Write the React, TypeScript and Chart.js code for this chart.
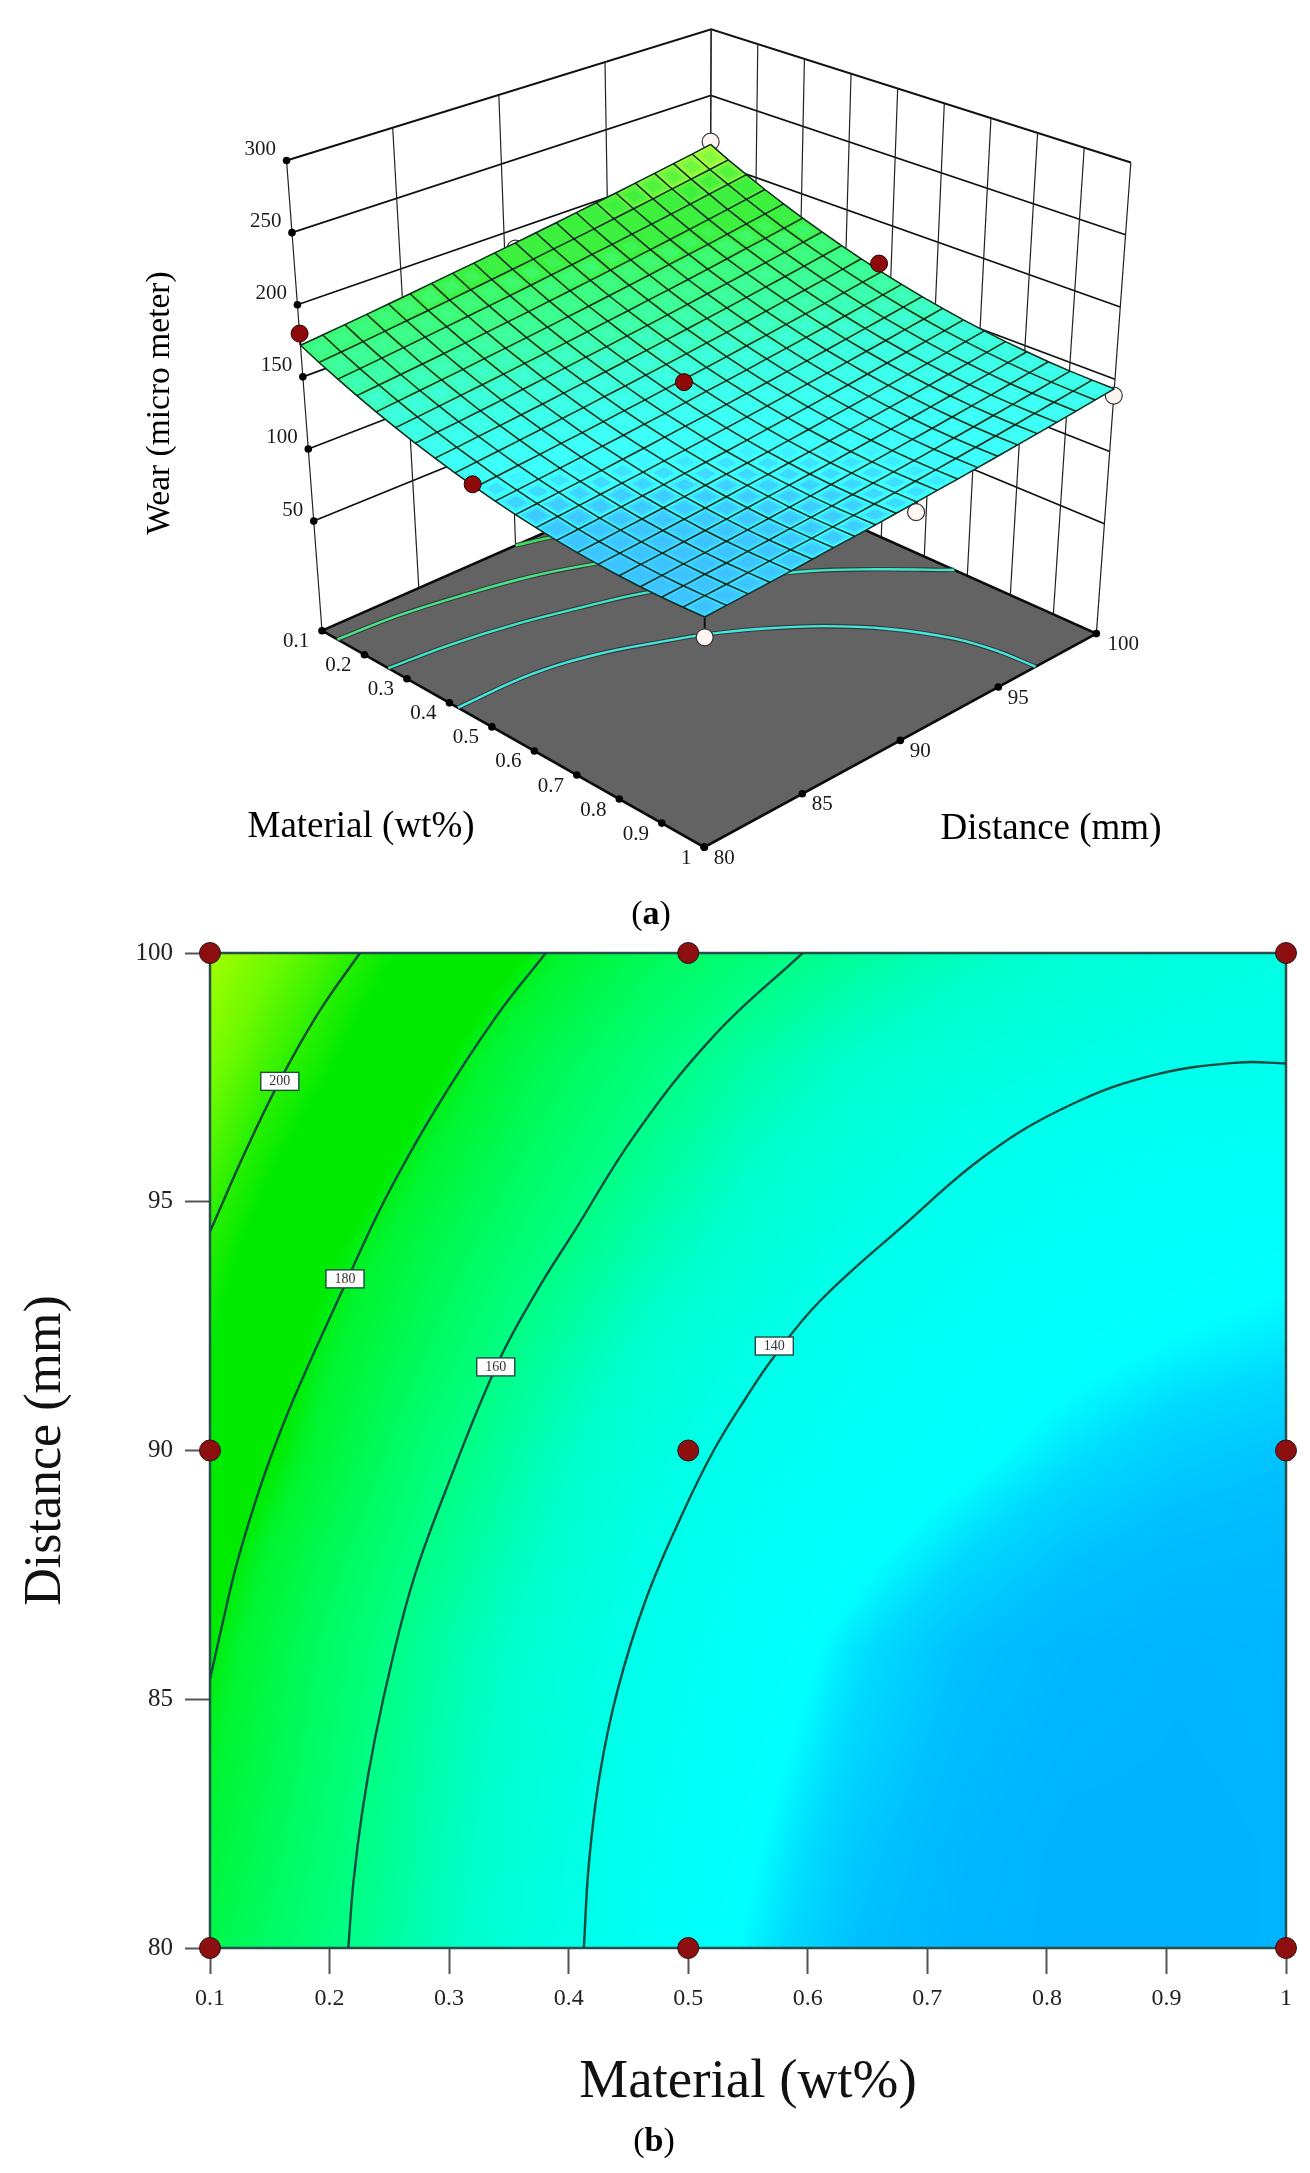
import React, { useEffect, useRef } from "react";
import { Chart, registerables } from "chart.js";

Chart.register(...registerables);

// ---------- data ----------
const materialTicks = [0.1, 0.2, 0.3, 0.4, 0.5, 0.6, 0.7, 0.8, 0.9, 1];
const distanceTicks = [80, 85, 90, 95, 100];
const wearTicks = [50, 100, 150, 200, 250, 300];

// Wear on the response-surface mesh: one row per material step (0.1 .. 1, 21 rows), one column per distance step (80 .. 100, 21 cols)
const wearGrid = [
  [171.9,173.5,175.2,176.9,178.7,180.5,182.4,184.3,186.2,188.2,190.2,192.3,194.4,196.6,198.8,201.0,203.3,205.6,208.0,210.4,212.9],
  [166.2,167.8,169.4,171.1,172.8,174.5,176.3,178.2,180.1,182.0,184.0,186.0,188.0,190.1,192.3,194.5,196.7,199.0,201.3,203.6,206.0],
  [161.0,162.5,164.1,165.7,167.4,169.1,170.8,172.6,174.4,176.3,178.2,180.1,182.2,184.2,186.3,188.4,190.6,192.8,195.1,197.4,199.7],
  [156.0,157.5,159.0,160.5,162.1,163.8,165.5,167.2,168.9,170.8,172.6,174.5,176.5,178.4,180.5,182.5,184.7,186.8,189.0,191.3,193.5],
  [151.4,152.8,154.3,155.8,157.3,158.9,160.5,162.2,163.9,165.6,167.4,169.3,171.2,173.1,175.1,177.1,179.1,181.2,183.4,185.6,187.8],
  [147.2,148.6,150.0,151.4,152.9,154.4,156.0,157.6,159.2,160.9,162.7,164.4,166.3,168.1,170.0,172.0,174.0,176.1,178.1,180.3,182.4],
  [143.3,144.6,145.9,147.3,148.7,150.2,151.7,153.3,154.9,156.5,158.2,159.9,161.7,163.5,165.4,167.3,169.2,171.2,173.2,175.3,177.4],
  [139.8,141.0,142.3,143.6,145.0,146.4,147.9,149.4,150.9,152.5,154.1,155.8,157.5,159.3,161.0,162.9,164.8,166.7,168.7,170.7,172.7],
  [136.6,137.8,139.0,140.3,141.6,142.9,144.3,145.8,147.2,148.8,150.3,152.0,153.6,155.3,157.0,158.8,160.7,162.5,164.4,166.4,168.4],
  [133.7,134.8,136.0,137.2,138.5,139.7,141.1,142.5,143.9,145.4,146.9,148.4,150.0,151.7,153.3,155.1,156.8,158.6,160.5,162.4,164.3],
  [131.2,132.3,133.4,134.5,135.7,137.0,138.2,139.6,140.9,142.3,143.8,145.3,146.8,148.4,150.0,151.7,153.4,155.2,157.0,158.8,160.7],
  [129.1,130.1,131.2,132.3,133.4,134.6,135.8,137.1,138.4,139.7,141.1,142.6,144.0,145.6,147.1,148.7,150.4,152.1,153.8,155.6,157.4],
  [127.3,128.3,129.3,130.3,131.4,132.5,133.7,134.9,136.1,137.4,138.7,140.1,141.6,143.0,144.5,146.1,147.7,149.3,151.0,152.7,154.5],
  [125.8,126.7,127.6,128.6,129.6,130.7,131.8,133.0,134.1,135.4,136.7,138.0,139.4,140.8,142.2,143.7,145.3,146.8,148.5,150.1,151.8],
  [124.7,125.5,126.4,127.3,128.3,129.3,130.4,131.5,132.6,133.8,135.0,136.3,137.6,138.9,140.3,141.8,143.2,144.8,146.3,148.0,149.6],
  [124.0,124.8,125.6,126.5,127.4,128.3,129.3,130.4,131.4,132.6,133.7,134.9,136.2,137.5,138.8,140.2,141.6,143.1,144.6,146.2,147.7],
  [123.6,124.3,125.1,125.9,126.7,127.6,128.6,129.6,130.6,131.6,132.7,133.9,135.1,136.3,137.6,138.9,140.3,141.7,143.2,144.7,146.2],
  [123.5,124.2,124.9,125.6,126.4,127.2,128.1,129.0,130.0,131.0,132.1,133.2,134.3,135.5,136.7,138.0,139.3,140.6,142.0,143.5,144.9],
  [123.8,124.4,125.1,125.7,126.5,127.3,128.1,128.9,129.8,130.8,131.8,132.8,133.9,135.0,136.2,137.4,138.7,140.0,141.3,142.7,144.1],
  [124.5,125.1,125.6,126.3,127.0,127.7,128.4,129.2,130.1,131.0,131.9,132.9,133.9,135.0,136.1,137.2,138.4,139.7,141.0,142.3,143.6],
  [125.4,125.9,126.4,127.0,127.6,128.3,129.0,129.7,130.5,131.4,132.2,133.2,134.1,135.1,136.2,137.3,138.4,139.6,140.8,142.1,143.4],
];

// Shading of the 2D plot: one row per distance (80, 82 .. 100), one column per material (0.1, 0.19 .. 1)
const shadeGrid = [
  [173, 163, 153.5, 144.5, 136.5, 131.5, 127, 124.5, 123.5, 123.5, 124],
  [176, 165, 154.5, 145.5, 137.5, 132.5, 128, 125, 123.5, 123.5, 124],
  [179, 166.8, 155.6, 146.8, 138.7, 133.6, 129.3, 126, 124.2, 123.8, 124.2],
  [181.5, 168.5, 157, 148, 139.8, 134.8, 130.5, 127, 125, 124, 124.5],
  [185, 172, 160.5, 151, 142, 136.5, 133, 130, 127.5, 126, 125.5],
  [190, 177, 164, 154, 145, 138.5, 135.5, 133, 130.5, 128.5, 127.5],
  [195, 180, 169, 158, 149, 142, 137.5, 135, 133, 131.5, 130.5],
  [199, 184, 173, 163, 154, 147, 141, 137.5, 135.5, 134, 133],
  [204, 191, 178.5, 168, 159, 151, 145, 140.5, 138, 136.5, 136],
  [209, 198, 185, 173, 164, 156, 150, 146, 143, 141, 140.5],
  [213, 203.5, 192, 181, 171, 163.5, 157, 152, 148, 145, 143],
];

// Design points
const designMaterial = [0.1, 0.1, 0.1, 0.5, 0.5, 0.5, 1, 1, 1];
const designDistance = [80, 90, 100, 80, 90, 100, 80, 90, 100];
const designWear = [180, 186, 215, 134.9, 143.5, 169.6, 112, 125.4, 138.7];
const designAboveSurface = [true, false, false, true, true, true, false, false, false];

// Contours printed on the floor of the 3D plot: [material, distance]
const floorContourUpperLeft = [[0.1, 90], [0.122, 91.6], [0.16, 93.5]];
const floorContourA = [[0.136, 80], [0.144, 83], [0.165, 86], [0.192, 88.7], [0.229, 91], [0.27, 93]];
const floorContourB = [[0.256, 80], [0.268, 83], [0.291, 85.9], [0.323, 88.5], [0.36, 91], [0.43, 94], [0.498, 96.4], [0.571, 98.1], [0.67, 100]];
const floorContourC = [[0.42, 80], [0.424, 83.7], [0.451, 86.5], [0.493, 88.8], [0.528, 90.4], [0.575, 92], [0.645, 93.8], [0.731, 95.3], [0.834, 96.4], [0.92, 96.8], [1, 96.9]];

// Contours of the 2D plot: [material, distance]
const contour200 = [[0.1, 94.4], [0.1313, 96.1], [0.1577, 97.4], [0.1908, 98.8], [0.2254, 100]];
const contour180 = [[0.1, 85.4], [0.1095, 86.42], [0.1215, 87.64], [0.1365, 88.86], [0.1513, 89.9], [0.1711, 91.1], [0.2123, 93.3], [0.2471, 95.08], [0.2898, 96.9], [0.3396, 98.73], [0.3809, 100]];
const contour160 = [[0.2157, 80], [0.22, 81.33], [0.2275, 82.76], [0.2379, 84.2], [0.253, 85.85], [0.2705, 87.43], [0.2948, 89.05], [0.3396, 91.7], [0.3725, 93.17], [0.4056, 94.44], [0.4553, 96.34], [0.5213, 98.33], [0.5957, 100]];
const contour140 = [[0.4127, 80], [0.4169, 81.69], [0.426, 83.48], [0.4411, 85.2], [0.4645, 87], [0.4946, 88.7], [0.5213, 90], [0.5481, 91.05], [0.5707, 91.85], [0.61, 93], [0.679, 94.5], [0.7497, 95.95], [0.82, 96.95], [0.89, 97.55], [0.9606, 97.8], [1, 97.78]];
const contourLabels = ["200", "180", "160", "140"];
const contourLabelMaterial = [0.1584, 0.2129, 0.339, 0.572];
const contourLabelDistance = [97.42, 93.45, 91.68, 92.1];

// Colour ramp
const rampWear = [123, 127, 130, 132, 140, 150, 160, 170, 178, 182, 195, 200, 207, 214];
const rampRgb = [
  [0, 176, 255], [0, 192, 255], [0, 220, 255], [0, 255, 255], [0, 255, 236], [0, 255, 204],
  [0, 255, 136], [0, 250, 90], [0, 245, 48], [0, 235, 0], [0, 235, 0], [40, 240, 0], [110, 250, 0], [170, 255, 0],
];

// ---------- layout ----------
const SERIF = '"Liberation Serif", serif';
const TOP_H = 925;
const TOP_CANVAS_H = 945;
const FLOOR_Z = -26;
const TOP_Z = 300;
const WARP_U = 0.05;
const WARP_V = 0.04;
// corners: left (u0,v0), front (u1,v0), right (u1,v1), back (u0,v1)
const floorQuad = [[317, 634], [705, 855], [1103, 637], [710, 460]];
const topQuad = [[281, 154], [706, 349], [1138, 156], [712, 20]];

function bil(q: number[][], u: number, v: number) {
  const a = (1 - u) * (1 - v), b = u * (1 - v), c = u * v, d = (1 - u) * v;
  return [a * q[0][0] + b * q[1][0] + c * q[2][0] + d * q[3][0], a * q[0][1] + b * q[1][1] + c * q[2][1] + d * q[3][1]];
}
const uOf = (m: number) => (m - 0.1) / 0.9;
const vOf = (d: number) => (d - 80) / 20;
function proj(m: number, d: number, z: number, warp = false) {
  let u = uOf(m), v = vOf(d);
  const k = (z - FLOOR_Z) / (TOP_Z - FLOOR_Z);
  if (warp) {
    u = u - WARP_U * k * 4 * u * (1 - u);
    v = v + WARP_V * k * 4 * v * (1 - v);
  }
  const f = bil(floorQuad, u, v), t = bil(topQuad, u, v);
  return { x: f[0] + (t[0] - f[0]) * k, y: f[1] + (t[1] - f[1]) * k };
}
function rampColor(w: number) {
  let i = 0;
  while (i < rampWear.length - 2 && w > rampWear[i + 1]) i++;
  const k = Math.max(0, Math.min(1, (w - rampWear[i]) / (rampWear[i + 1] - rampWear[i])));
  return rampRgb[i].map((c, n) => c + (rampRgb[i + 1][n] - c) * k);
}
function gridWear(m: number, d: number) {
  return wearGrid[Math.round(uOf(m) * 20)][Math.round(vOf(d) * 20)];
}

function line3d(points: { x: number; y: number }[], color: string, width: number, extra: any = {}) {
  return { data: points, showLine: true, borderColor: color, borderWidth: width, pointRadius: 0, tension: 0, fill: false, ...extra };
}

function build3dDatasets() {
  const sets: any[] = [];
  // walls
  for (const z of wearTicks) {
    sets.push(line3d([proj(0.1, 80, z), proj(0.1, 100, z), proj(1, 100, z)], "#111", z === 300 ? 2 : 1.7));
  }
  for (const d of distanceTicks) {
    sets.push(line3d([proj(0.1, d, FLOOR_Z), proj(0.1, d, 300)], "#222", 1.2));
  }
  for (const m of materialTicks) {
    sets.push(line3d([proj(m, 100, FLOOR_Z), proj(m, 100, 300)], "#222", 1.2));
  }
  // floor
  const corners = [proj(0.1, 80, FLOOR_Z), proj(1, 80, FLOOR_Z), proj(1, 100, FLOOR_Z), proj(0.1, 100, FLOOR_Z), proj(0.1, 80, FLOOR_Z)];
  sets.push(line3d(corners, "#0c0c0c", 2.6, { fill: "shape", backgroundColor: "#636363" }));
  // floor contours with their dark halo
  const floorPts = (c: number[][]) => c.map((p) => proj(p[0], p[1], FLOOR_Z));
  const floorLine = (c: number[][], color: string) => {
    sets.push(line3d(floorPts(c), "#3a3a3a", 4.6, { tension: 0.4 }));
    sets.push(line3d(floorPts(c), color, 2.4, { tension: 0.4 }));
  };
  floorLine(floorContourUpperLeft, "#3ce060");
  floorLine(floorContourA, "#48e488");
  floorLine(floorContourB, "#3ce8c8");
  floorLine(floorContourC, "#40e8e0");
  // ticks as dots
  sets.push({ data: materialTicks.map((m) => proj(m, 80, FLOOR_Z)), showLine: false, pointRadius: 3.8, backgroundColor: "#000", borderWidth: 0 });
  sets.push({ data: distanceTicks.map((d) => proj(1, d, FLOOR_Z)), showLine: false, pointRadius: 3.8, backgroundColor: "#000", borderWidth: 0 });
  sets.push({ data: wearTicks.map((z) => proj(0.1, 80, z)), showLine: false, pointRadius: 3.8, backgroundColor: "#000", borderWidth: 0 });
  // white points (under the surface) with their stems
  const white: { x: number; y: number }[] = [];
  const red: { x: number; y: number }[] = [];
  const redStems: any[] = [];
  designWear.forEach((z, i) => {
    const m = designMaterial[i], d = designDistance[i];
    const p = proj(m, d, z, true);
    const stem = line3d([p, proj(m, d, gridWear(m, d), true)], "#111", 2);
    if (designAboveSurface[i]) {
      red.push(p);
      redStems.push(stem);
    } else {
      white.push(p);
      sets.push(stem);
    }
  });
  sets.push({ data: white, showLine: false, pointRadius: 8.5, backgroundColor: "#fff6f2", borderColor: "#333", borderWidth: 1.2 });
  // surface
  const surfaceIndex = sets.length;
  const surfacePts: { x: number; y: number }[] = [];
  wearGrid.forEach((row, i) =>
    row.forEach((w, j) => surfacePts.push(proj(0.1 + 0.045 * i, 80 + j, w, true)))
  );
  sets.push({ data: surfacePts, showLine: false, pointRadius: 0 });
  // red points
  redStems.forEach((s) => sets.push(s));
  sets.push({ data: red, showLine: false, pointRadius: 8.5, backgroundColor: "#8e0a0a", borderColor: "#2a0000", borderWidth: 1 });
  sets.forEach((s, i) => (s.order = 1000 - i));
  return { sets, surfaceIndex };
}

function drawCaption(ctx: CanvasRenderingContext2D, letter: string, cx: number, cy: number) {
  ctx.save();
  ctx.textBaseline = "middle";
  ctx.textAlign = "left";
  ctx.fillStyle = "#000";
  ctx.font = `34px ${SERIF}`;
  const pw = ctx.measureText("(").width;
  ctx.font = `bold 34px ${SERIF}`;
  const lw = ctx.measureText(letter).width;
  let x = cx - (pw * 2 + lw) / 2;
  ctx.font = `34px ${SERIF}`;
  ctx.fillText("(", x, cy);
  x += pw;
  ctx.font = `bold 34px ${SERIF}`;
  ctx.fillText(letter, x, cy);
  x += lw;
  ctx.font = `34px ${SERIF}`;
  ctx.fillText(")", x, cy);
  ctx.restore();
}

export default function App() {
  const topRef = useRef<HTMLCanvasElement>(null);
  const botRef = useRef<HTMLCanvasElement>(null);

  useEffect(() => {
    const { sets, surfaceIndex } = build3dDatasets();

    const surfacePlugin = {
      id: "surfaceMesh",
      afterDatasetDraw(chart: any, args: any) {
        if (args.index !== surfaceIndex) return;
        const pts = chart.getDatasetMeta(surfaceIndex).data;
        const at = (i: number, j: number) => pts[i * 21 + j];
        const ctx = chart.ctx as CanvasRenderingContext2D;
        const lighten = (c: number[]) => {
          const v = c.map((n) => Math.round(n * 0.76 + 255 * 0.24));
          return `rgb(${v[0]},${v[1]},${v[2]})`;
        };
        ctx.save();
        ctx.lineJoin = "round";
        for (let i = 0; i < 20; i++) {
          for (let j = 19; j >= 0; j--) {
            const w = (wearGrid[i][j] + wearGrid[i + 1][j] + wearGrid[i][j + 1] + wearGrid[i + 1][j + 1]) / 4;
            const q = [at(i, j), at(i + 1, j), at(i + 1, j + 1), at(i, j + 1)];
            const cx = (q[0].x + q[1].x + q[2].x + q[3].x) / 4;
            const cy = (q[0].y + q[1].y + q[2].y + q[3].y) / 4;
            // each cell shades softly from its rim to its centre
            [[1, 3], [0.75, 0], [0.5, -3]].forEach(([s, dw], pass) => {
              const col = lighten(rampColor(w + dw));
              ctx.beginPath();
              q.forEach((p: any, n: number) => {
                const x = cx + (p.x - cx) * s, y = cy + (p.y - cy) * s;
                if (n === 0) ctx.moveTo(x, y);
                else ctx.lineTo(x, y);
              });
              ctx.closePath();
              ctx.fillStyle = col;
              ctx.fill();
              if (pass === 0) {
                ctx.strokeStyle = col;
                ctx.lineWidth = 1;
                ctx.stroke();
              }
            });
          }
        }
        ctx.strokeStyle = "#0c2a22";
        ctx.lineWidth = 1.5;
        for (let i = 0; i <= 20; i++) {
          ctx.beginPath();
          for (let j = 0; j <= 20; j++) {
            const p = at(i, j);
            if (j === 0) ctx.moveTo(p.x, p.y);
            else ctx.lineTo(p.x, p.y);
          }
          ctx.stroke();
        }
        for (let j = 0; j <= 20; j++) {
          ctx.beginPath();
          for (let i = 0; i <= 20; i++) {
            const p = at(i, j);
            if (i === 0) ctx.moveTo(p.x, p.y);
            else ctx.lineTo(p.x, p.y);
          }
          ctx.stroke();
        }
        ctx.restore();
      },
    };

    const textPlugin = {
      id: "labels3d",
      afterDraw(chart: any) {
        const ctx = chart.ctx as CanvasRenderingContext2D;
        const sx = chart.scales.x, sy = chart.scales.y;
        const px = (p: { x: number; y: number }, dx: number, dy: number) => [sx.getPixelForValue(p.x) + dx, sy.getPixelForValue(p.y) + dy];
        ctx.save();
        ctx.fillStyle = "#1a1a1a";
        ctx.font = `21px ${SERIF}`;
        ctx.textBaseline = "middle";
        ctx.textAlign = "right";
        wearTicks.forEach((z) => {
          const [x, y] = px(proj(0.1, 80, z), -10.5, -11);
          ctx.fillText(String(z), x, y);
        });
        ctx.textAlign = "center";
        materialTicks.forEach((m) => {
          const [x, y] = px(proj(m, 80, FLOOR_Z), m === 1 ? -18 : -26, 11);
          ctx.fillText(String(m), x, y);
        });
        distanceTicks.forEach((d) => {
          const [x, y] = px(proj(1, d, FLOOR_Z), d === 100 ? 27 : 20, 11);
          ctx.fillText(String(d), x, y);
        });
        ctx.fillStyle = "#000";
        ctx.font = `37px ${SERIF}`;
        ctx.fillText("Material (wt%)", 361, 827);
        ctx.fillText("Distance (mm)", 1051, 829);
        ctx.save();
        ctx.translate(160, 403);
        ctx.rotate(-Math.PI / 2);
        ctx.font = `33.5px ${SERIF}`;
        ctx.fillText("Wear (micro meter)", 0, 0);
        ctx.restore();
        ctx.restore();
        drawCaption(ctx, "a", 651, 915);
      },
    };

    const top = new Chart(topRef.current!, {
      type: "scatter",
      data: { datasets: sets },
      options: {
        responsive: false,
        animation: false,
        devicePixelRatio: 1,
        layout: { padding: 0 },
        events: [],
        scales: {
          x: { type: "linear", min: 0, max: 1310, display: false },
          y: { type: "linear", min: 0, max: TOP_CANVAS_H, reverse: true, display: false },
        },
        plugins: { legend: { display: false }, tooltip: { enabled: false } },
      },
      plugins: [surfacePlugin, textPlugin],
    } as any);

    // ------------- 2D contour chart ---------------
    const heatPlugin = {
      id: "heat",
      beforeDatasetsDraw(chart: any) {
        const { left, top: t, width, height } = chart.chartArea;
        const w = Math.round(width), h = Math.round(height);
        const off = document.createElement("canvas");
        off.width = w;
        off.height = h;
        const oc = off.getContext("2d")!;
        const img = oc.createImageData(w, h);
        const rows = shadeGrid.length - 1, cols = shadeGrid[0].length - 1;
        for (let y = 0; y < h; y++) {
          const fr = ((h - 1 - y) / (h - 1)) * rows;
          const r0 = Math.min(rows - 1, Math.floor(fr));
          const kr = fr - r0;
          for (let x = 0; x < w; x++) {
            const fc = (x / (w - 1)) * cols;
            const c0 = Math.min(cols - 1, Math.floor(fc));
            const kc = fc - c0;
            const v =
              shadeGrid[r0][c0] * (1 - kc) * (1 - kr) +
              shadeGrid[r0][c0 + 1] * kc * (1 - kr) +
              shadeGrid[r0 + 1][c0] * (1 - kc) * kr +
              shadeGrid[r0 + 1][c0 + 1] * kc * kr;
            const c = rampColor(v);
            const o = (y * w + x) * 4;
            img.data[o] = c[0];
            img.data[o + 1] = c[1];
            img.data[o + 2] = c[2];
            img.data[o + 3] = 255;
          }
        }
        oc.putImageData(img, 0, 0);
        const ctx = chart.ctx as CanvasRenderingContext2D;
        ctx.drawImage(off, left, t);
        ctx.save();
        ctx.strokeStyle = "#27504c";
        ctx.lineWidth = 2.5;
        ctx.strokeRect(left, t, width, height);
        ctx.restore();
      },
    };

    const contourLabelPlugin = {
      id: "contourLabels",
      afterDatasetsDraw(chart: any) {
        const ctx = chart.ctx as CanvasRenderingContext2D;
        const sx = chart.scales.x, sy = chart.scales.y;
        ctx.save();
        ctx.font = `14px ${SERIF}`;
        ctx.textAlign = "center";
        ctx.textBaseline = "middle";
        contourLabels.forEach((t, i) => {
          const x = sx.getPixelForValue(contourLabelMaterial[i]);
          const y = sy.getPixelForValue(contourLabelDistance[i]);
          ctx.fillStyle = "#fff";
          ctx.strokeStyle = "#1f4a44";
          ctx.lineWidth = 1.4;
          ctx.fillRect(x - 19, y - 9, 38, 18);
          ctx.strokeRect(x - 19, y - 9, 38, 18);
          ctx.fillStyle = "#333";
          ctx.fillText(t, x, y);
        });
        ctx.restore();
      },
      afterDraw(chart: any) {
        drawCaption(chart.ctx, "b", 654, 2142 - TOP_H);
      },
    };

    const contourSet = (c: number[][]) => ({
      data: c.map((p) => ({ x: p[0], y: p[1] })),
      showLine: true,
      borderColor: "#0e4a40",
      borderWidth: 2.4,
      pointRadius: 0,
      tension: 0.4,
      order: 2,
      clip: true,
    });

    const bottom = new Chart(botRef.current!, {
      type: "scatter",
      data: {
        datasets: [
          contourSet(contour200),
          contourSet(contour180),
          contourSet(contour160),
          contourSet(contour140),
          {
            data: designMaterial.map((m, i) => ({ x: m, y: designDistance[i] })),
            showLine: false,
            pointRadius: 10.5,
            backgroundColor: "#8e0f0f",
            borderColor: "#2f1010",
            borderWidth: 1,
            clip: false,
            order: 1,
          },
        ],
      },
      options: {
        responsive: false,
        animation: false,
        devicePixelRatio: 1,
        events: [],
        layout: { padding: { top: 953 - TOP_H, right: 24, bottom: 0, left: 0 } },
        scales: {
          x: {
            type: "linear",
            min: 0.1,
            max: 1,
            afterBuildTicks: (s: any) => {
              s.ticks = materialTicks.map((value) => ({ value }));
            },
            afterFit: (s: any) => {
              s.height = 2173 - 1948;
            },
            grid: { drawOnChartArea: false, tickLength: 26, tickColor: "#555", tickWidth: 2 },
            border: { display: false },
            ticks: {
              autoSkip: false,
              maxRotation: 0,
              padding: 10,
              color: "#222",
              font: { family: SERIF, size: 24 },
              callback: (v: any) => String(v),
            },
            title: {
              display: true,
              text: "Material (wt%)",
              color: "#111",
              font: { family: SERIF, size: 55 },
              padding: { top: 0, bottom: 57 },
            },
          },
          y: {
            type: "linear",
            min: 80,
            max: 100,
            afterBuildTicks: (s: any) => {
              s.ticks = distanceTicks.map((value) => ({ value }));
            },
            afterFit: (s: any) => {
              s.width = 210;
            },
            grid: { drawOnChartArea: false, tickLength: 25, tickColor: "#555", tickWidth: 2 },
            border: { display: false },
            ticks: {
              padding: 12,
              color: "#222",
              font: { family: SERIF, size: 25 },
              callback: (v: any) => String(v),
            },
            title: {
              display: true,
              text: "Distance (mm)",
              color: "#111",
              font: { family: SERIF, size: 52 },
              padding: { top: 15, bottom: 0 },
            },
          },
        },
        plugins: { legend: { display: false }, tooltip: { enabled: false } },
      },
      plugins: [heatPlugin, contourLabelPlugin],
    } as any);

    return () => {
      top.destroy();
      bottom.destroy();
    };
  }, []);

  return (
    <div style={{ position: "absolute", left: 0, top: 0, width: 1310, height: 2173, background: "#fff", overflow: "hidden" }}>
      <canvas ref={topRef} width={1310} height={TOP_CANVAS_H} style={{ position: "absolute", left: 0, top: 0, display: "block" }} />
      <canvas ref={botRef} width={1310} height={2173 - TOP_H} style={{ position: "absolute", left: 0, top: TOP_H, display: "block" }} />
    </div>
  );
}
